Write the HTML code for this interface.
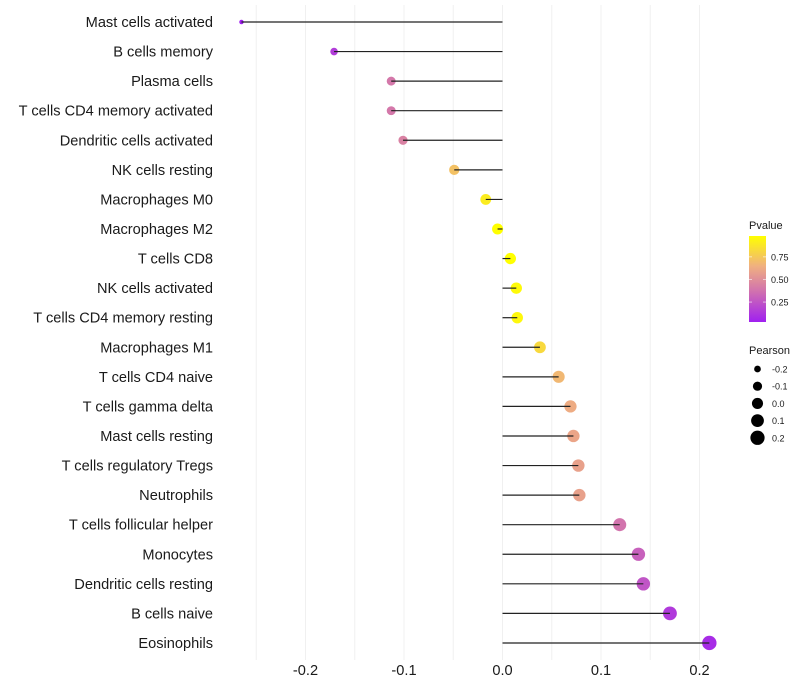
<!DOCTYPE html>
<html><head><meta charset="utf-8"><style>
html,body{margin:0;padding:0;background:#fff;}
svg{display:block;font-family:"Liberation Sans",Arial,sans-serif;}
</style></head><body>
<svg id="chart" width="800" height="700"></svg>
<script>
const categories=["Mast cells activated","B cells memory","Plasma cells","T cells CD4 memory activated","Dendritic cells activated","NK cells resting","Macrophages M0","Macrophages M2","T cells CD8","NK cells activated","T cells CD4 memory resting","Macrophages M1","T cells CD4 naive","T cells gamma delta","Mast cells resting","T cells regulatory  Tregs ","Neutrophils","T cells follicular helper","Monocytes","Dendritic cells resting","B cells naive","Eosinophils"];
const pearson=[-0.265,-0.171,-0.113,-0.113,-0.101,-0.049,-0.017,-0.005,0.008,0.014,0.015,0.038,0.057,0.069,0.072,0.077,0.078,0.119,0.138,0.143,0.170,0.210];
const pvalues=[0.02,0.15,0.4,0.4,0.44,0.72,0.9,0.98,0.98,0.96,0.95,0.82,0.68,0.63,0.6,0.58,0.58,0.38,0.3,0.25,0.14,0.08];
const xTicks=[-0.2,-0.1,0.0,0.1,0.2];
const xTickLabels=["-0.2","-0.1","0.0","0.1","0.2"];
const xGrid=[-0.25,-0.2,-0.15,-0.1,-0.05,0,0.05,0.1,0.15,0.2];
const cbTicks=[0.25,0.5,0.75];
const cbTickLabels=["0.25","0.50","0.75"];
const sizeLegend=[-0.2,-0.1,0.0,0.1,0.2];
const sizeLegendLabels=["-0.2","-0.1","0.0","0.1","0.2"];

const NS="http://www.w3.org/2000/svg";
const svg=document.getElementById('chart');
function mk(t,a,p){const e=document.createElementNS(NS,t);for(const k in a)e.setAttribute(k,a[k]);(p||svg).appendChild(e);return e;}
const x=v=>502.5+v*985;
const y=i=>22+i*29.57;
const r=v=>Math.sqrt(Math.max(1.5,31+98.4*v));
const stops=[[0,[160,32,240]],[0.35,[208,112,176]],[0.65,[240,176,128]],[1,[255,255,0]]];
function col(p){const t=Math.max(0,Math.min(1,(p-0.03)/0.95));for(let i=1;i<stops.length;i++){if(t<=stops[i][0]){const a=stops[i-1],b=stops[i];const f=(t-a[0])/(b[0]-a[0]);const c=a[1].map((v,k)=>Math.round(v+(b[1][k]-v)*f));return `rgb(${c})`;}}return 'rgb(255,255,0)';}

const grid=mk('g',{});


xGrid.forEach(v=>{mk('line',{x1:x(v),x2:x(v),y1:5,y2:660,stroke:'#f0f0f0','stroke-width':1},grid);});

const marks=mk('g',{});


categories.forEach((c,i)=>{
  const d=mk('circle',{cx:x(pearson[i]),cy:y(i),r:r(pearson[i]),fill:col(pvalues[i])},marks);
  
  
  const s=mk('line',{x1:x(0),x2:x(pearson[i]),y1:y(i),y2:y(i),stroke:'#222','stroke-width':1.2},marks);
  
  
  const t=mk('text',{x:213,y:y(i)+5,'text-anchor':'end','font-size':14.6,fill:'#1a1a1a'});
  t.textContent=c;
  
  
});
xTicks.forEach((v,i)=>{const t=mk('text',{x:x(v),y:675,'text-anchor':'middle','font-size':14.6,fill:'#1a1a1a'});t.textContent=xTickLabels[i];
  
  });

const lg=mk('g',{});


const lt=mk('text',{x:749,y:229,'font-size':11,fill:'#1a1a1a'},lg);lt.textContent='Pvalue';
const defs=mk('defs',{});const grad=mk('linearGradient',{id:'cg',x1:0,y1:1,x2:0,y2:0},defs);
stops.forEach(s=>mk('stop',{offset:s[0],'stop-color':`rgb(${s[1]})`},grad));
mk('rect',{x:749,y:236,width:17,height:86,fill:'url(#cg)'},lg);
const cy=p=>322-(p-0.03)/0.95*86;
cbTicks.forEach((v,i)=>{mk('line',{x1:749,x2:752,y1:cy(v),y2:cy(v),stroke:'#fff','stroke-opacity':0.6},lg);mk('line',{x1:763,x2:766,y1:cy(v),y2:cy(v),stroke:'#fff','stroke-opacity':0.6},lg);
  const t=mk('text',{x:771,y:cy(v)+3.5,'font-size':9,fill:'#1a1a1a'},lg);t.textContent=cbTickLabels[i];});

const sg=mk('g',{});


const st=mk('text',{x:749,y:354,'font-size':11,fill:'#1a1a1a'},sg);st.textContent='Pearson';
sizeLegend.forEach((v,i)=>{const yy=369+i*17.2;mk('circle',{cx:757.5,cy:yy,r:r(v),fill:'#000'},sg);
  const t=mk('text',{x:772,y:yy+3.5,'font-size':9,fill:'#1a1a1a'},sg);t.textContent=sizeLegendLabels[i];});
</script>
</body></html>
